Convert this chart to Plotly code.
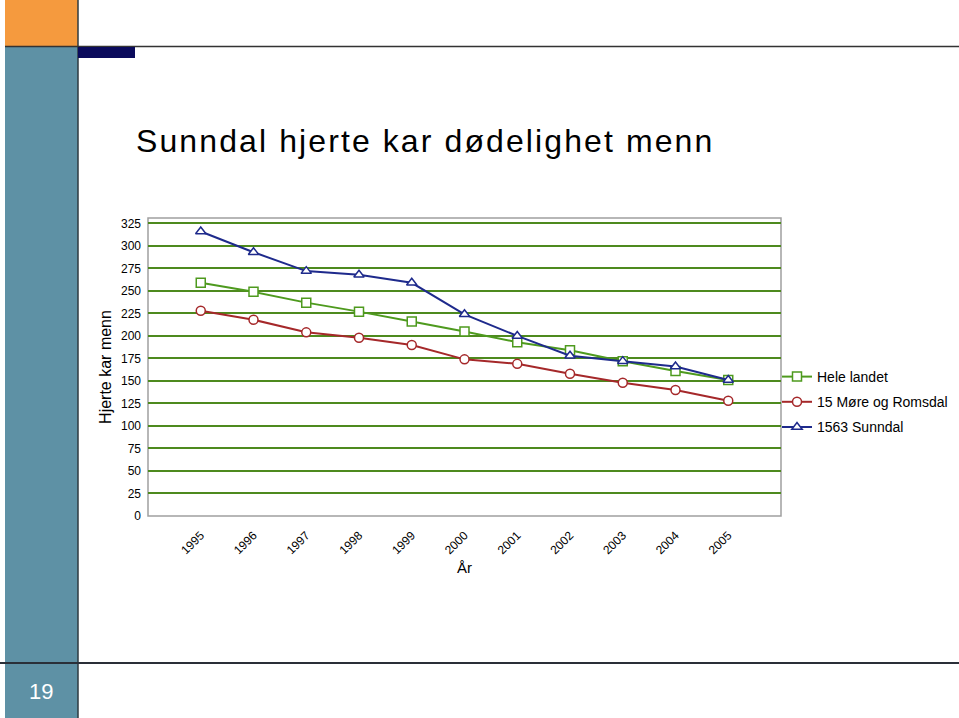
import plotly.graph_objects as go

years = ["1995", "1996", "1997", "1998", "1999", "2000", "2001", "2002", "2003", "2004", "2005"]
hele_landet = [259, 249, 237, 227, 216, 205, 193, 184, 172, 161, 151]
more_romsdal = [228, 218, 204, 198, 190, 174, 169, 158, 148, 140, 128]
sunndal = [316, 293, 272, 268, 259, 224, 200, 178, 172, 166, 151]
y_ticks = list(range(0, 326, 25))

W, H = 959, 718
L, R, T, B = 148, 781, 218, 516


def px(x):
    return (x - L) / (R - L)


def py(y):
    return (B - y) / (B - T)


fig = go.Figure()
series = [
    ("Hele landet", hele_landet, "#4E9A1E", "square"),
    ("15 Møre og Romsdal", more_romsdal, "#A5282A", "circle"),
    ("1563 Sunndal", sunndal, "#1E2A8C", "triangle-up"),
]
for i, (name, vals, col, sym) in enumerate(series):
    fig.add_trace(go.Scatter(
        x=list(range(len(years))), y=vals, name=name, mode="lines+markers",
        line=dict(color=col, width=2),
        marker=dict(symbol=sym, size=9, color="white", line=dict(color=col, width=1.5)),
        legendgroup=str(i),
    ))

shapes = []
shapes.append(dict(type="rect", xref="paper", yref="paper", x0=0, x1=1, y0=0, y1=1,
                   line=dict(color="#A0A0A0", width=1.5), layer="below"))
shapes.append(dict(type="rect", xref="paper", yref="paper", x0=px(5), x1=px(78), y0=py(0), y1=py(46),
                   fillcolor="#F59A3E", line=dict(width=0)))
shapes.append(dict(type="rect", xref="paper", yref="paper", x0=px(5), x1=px(78), y0=py(47), y1=py(718),
                   fillcolor="#5E91A5", line=dict(width=0)))
shapes.append(dict(type="line", xref="paper", yref="paper", x0=px(78), x1=px(78), y0=py(0), y1=py(718),
                   line=dict(color="#2E3A40", width=1.5)))
shapes.append(dict(type="line", xref="paper", yref="paper", x0=px(5), x1=px(959), y0=py(46.5), y1=py(46.5),
                   line=dict(color="#333333", width=1.5)))
shapes.append(dict(type="rect", xref="paper", yref="paper", x0=px(78), x1=px(135), y0=py(47), y1=py(58),
                   fillcolor="#0B0B5C", line=dict(width=0)))
shapes.append(dict(type="line", xref="paper", yref="paper", x0=px(0), x1=px(959), y0=py(663), y1=py(663),
                   line=dict(color="#2A2F38", width=2)))

annotations = [
    dict(text='<span style="letter-spacing:2.1px">Sunndal hjerte kar dødelighet menn</span>',
         xref="paper", yref="paper",
         x=px(134), y=py(141), xanchor="left", yanchor="middle", showarrow=False,
         font=dict(family="Liberation Sans, Arial", size=32, color="black")),
    dict(text="19", xref="paper", yref="paper", x=px(41), y=py(691), xanchor="center", yanchor="middle",
         showarrow=False, font=dict(family="Liberation Sans, Arial", size=22, color="white")),
]

fig.update_layout(
    width=W, height=H, margin=dict(l=L, r=W - R, t=T, b=H - B, autoexpand=False),
    paper_bgcolor="white", plot_bgcolor="white",
    showlegend=True,
    legend=dict(xref="container", yref="container", x=777 / W, y=1 - 402 / H,
                xanchor="left", yanchor="middle",
                font=dict(family="Liberation Sans, Arial", size=14, color="black"),
                traceorder="grouped", tracegroupgap=4, itemwidth=30,
                bgcolor="rgba(0,0,0,0)"),
    shapes=shapes, annotations=annotations,
    xaxis=dict(range=[-1, 11], tickmode="array", tickvals=list(range(len(years))), ticktext=years,
               tickangle=-45, showgrid=False, zeroline=False, showline=False, ticks="",
               ticklabelstandoff=9,
               tickfont=dict(family="Liberation Sans, Arial", size=12, color="black"),
               title=dict(text="År", font=dict(family="Liberation Sans, Arial", size=15, color="black"),
                          standoff=6)),
    yaxis=dict(range=[0, 331], tickmode="array", tickvals=y_ticks, showgrid=True,
               gridcolor="#4E8A1E", gridwidth=1.5, zeroline=False, showline=False, ticks="",
               ticklabelstandoff=6,
               tickfont=dict(family="Liberation Sans, Arial", size=12, color="black"),
               title=dict(text="Hjerte kar menn", font=dict(family="Liberation Sans, Arial", size=16, color="black"),
                          standoff=5)),
)

fig.write_html("out.html")
